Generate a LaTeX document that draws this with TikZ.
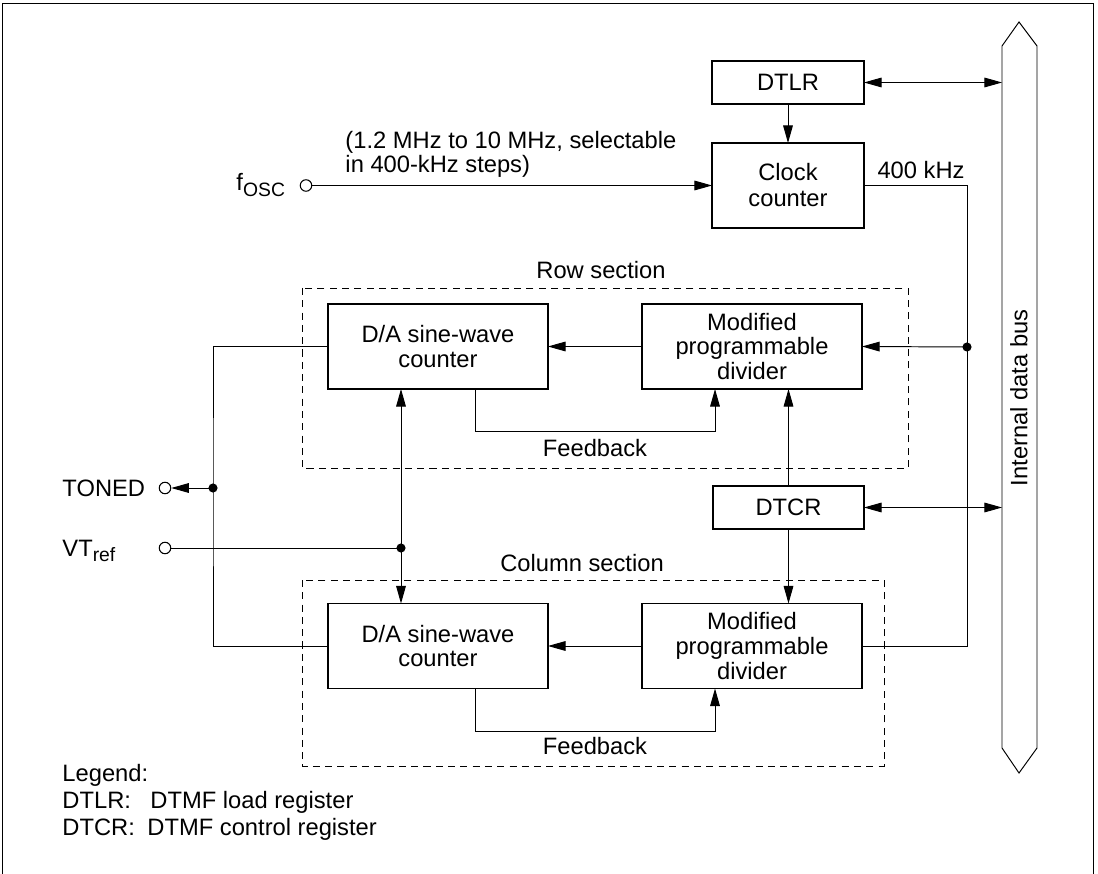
\documentclass[tikz,border=0pt]{standalone}
\usepackage{fontspec}
\setmainfont{Liberation Sans}
\usetikzlibrary{arrows.meta}

\tikzset{
  block/.style={draw, line width=0.7pt, align=center, inner sep=0pt, outer sep=0pt,
    font=\fontsize{13.5}{14}\selectfont},
  lbl/.style={inner sep=0pt, font=\fontsize{13.5}{14}\selectfont},
  section/.style={draw, dash pattern=on 4pt off 3pt, line width=0.5pt},
  port/.style={circle, draw, fill=white, minimum size=0.23cm, inner sep=0pt, line width=0.6pt},
}

\begin{document}
\begin{tikzpicture}[x=0.02cm, y=-0.02cm, line width=0.55pt,
    >={Triangle[length=10pt,width=5.5pt]}]
            \useasboundingbox (0,0) rectangle (1098,874);
            \draw (2,874) -- (2,3) -- (1093,3) -- (1093,874);

            % internal data bus
            \draw (1002,46) -- (1019,22) -- (1037,46) -- (1037,748) -- (1019,773) -- (1002,748) -- cycle;
            \coordinate (busw) at (1002,400);
            \node[lbl, rotate=90] (buslbl) at (1019,398) {Internal data bus};

            % sections
            \draw[section] (302,288) rectangle (908,468);
            \draw[section] (302,580) rectangle (884,766);
            \node[lbl] (rowlbl) at (601,270) {Row section};
            \node[lbl] (collbl) at (582,563) {Column section};

            % blocks
            \node[block, minimum width=3.04cm, minimum height=0.86cm] (dtlr) at (788,82.5) {DTLR};
            \node[block, minimum width=3.04cm, minimum height=1.7cm] (clock) at (788,185.5) {Clock\\[0.8pt]counter};
            \node[block, minimum width=4.4cm, minimum height=1.7cm] (rowda) at (438,346.5) {D/A sine-wave\\counter};
            \node[block, minimum width=4.4cm, minimum height=1.7cm] (rowmd) at (752,346.5) {Modified\\programmable\\divider};
            \node[block, minimum width=3.02cm, minimum height=0.86cm] (dtcr) at (788.5,507.5) {DTCR};
            \node[block, minimum width=4.4cm, minimum height=1.7cm] (colda) at (438,646) {D/A sine-wave\\counter};
            \node[block, minimum width=4.4cm, minimum height=1.7cm] (colmd) at (752,646) {Modified\\programmable\\divider};

            % ports
            \node[port] (fosc) at (306,185.5) {};
            \node[port] (toned) at (165,488) {};
            \node[port] (vtport) at (165,548) {};
            \node[lbl, anchor=base west] (fosclbl) at (236,191) {f\raisebox{-0.45ex}{\fontsize{11}{12}\selectfont OSC}};
            \node[lbl, anchor=base west] (tonedlbl) at (62,496) {TONED};
            \node[lbl, anchor=base west] (vtlbl) at (62,556) {VT\raisebox{-0.45ex}{\fontsize{11}{12}\selectfont ref}};

            \coordinate (tap) at (967,347);
            \coordinate (vref) at (401,548);
            \coordinate (tj) at (213,488);

            % clock path
            \draw[->] (fosc) -- (fosc -| clock.west);
            \node[lbl, anchor=north west, align=left, font=\fontsize{13.5}{13.3}\selectfont] (freq) at (345,131)
                {(1.2 MHz to 10 MHz, selectable\\in 400-kHz steps)};
            \draw[->] (dtlr) -- (clock);
            \draw[<->] (dtlr.east) -- (dtlr.east -| busw);
            \draw[<->] (dtcr.east) -- (dtcr.east -| busw);
            \node[lbl] (khz) at (921,170) {400 kHz};
            \draw (clock.east) -| (tap) |- (colmd.east);
            \draw[->] (tap) -- (rowmd.east);

            % dividers to counters
            \draw[->] (rowmd) -- (rowda);
            \draw[->] (colmd) -- (colda);
            \draw[->] (dtcr.north) -- (dtcr.north |- rowmd.south);
            \draw[->] (dtcr.south) -- (dtcr.south |- colmd.north);

            % feedback
            \draw[->] ([xshift=0.74cm]rowda.south) -- ++(0,42) -| ([xshift=-0.74cm]rowmd.south);
            \draw[->] ([xshift=0.74cm]colda.south) -- ++(0,43) -| ([xshift=-0.74cm]colmd.south);
            \node[lbl] (rowfb) at (595,448) {Feedback};
            \node[lbl] (colfb) at (595,746) {Feedback};

            % reference and output
            \draw (vtport) -- (vref);
            \draw[->] (vref) -- (vref |- rowda.south);
            \draw[->] (vref) -- (vref |- colda.north);
            \draw (rowda.west) -| (tj) |- (colda.west);
            \draw[->] (tj) -- (toned);

            \foreach \p in {tap,vref,tj}{
                \fill (\p) circle (2.6pt);
            }

            % legend
            \node[lbl, anchor=base west] (leg) at (62,781) {Legend:};
            \node[lbl, anchor=base west] (legdtlr) at (62,808) {DTLR:};
            \node[lbl, anchor=base west] (legdtlrtxt) at (150,808) {DTMF load register};
            \node[lbl, anchor=base west] (legdtcr) at (62,835) {DTCR:};
            \node[lbl, anchor=base west] (legdtcrtxt) at (147,835) {DTMF control register};
        \end{tikzpicture}
\end{document}
